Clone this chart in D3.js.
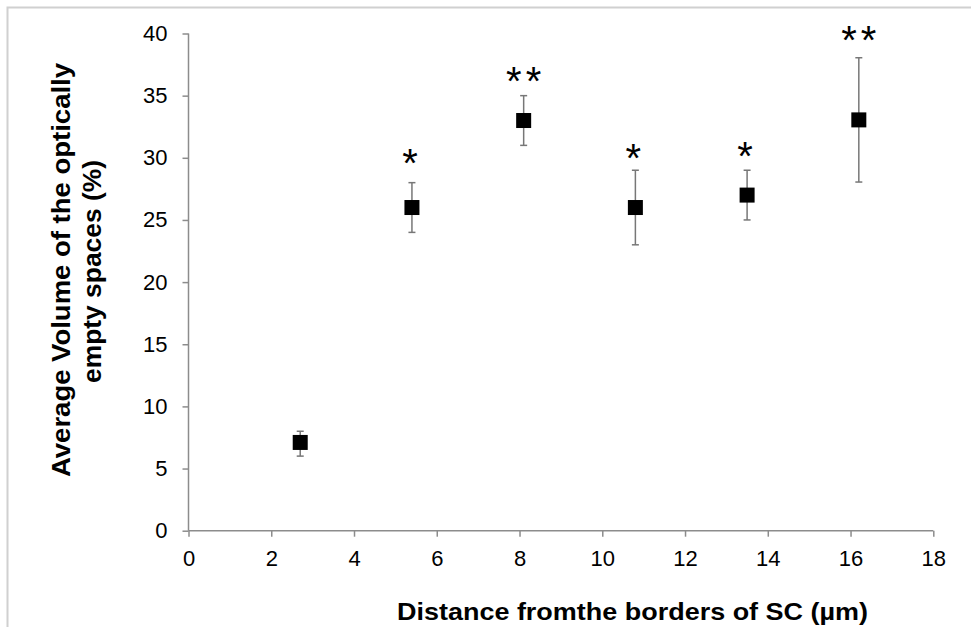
<!DOCTYPE html>
<html>
<head>
<meta charset="utf-8">
<script src="https://cdnjs.cloudflare.com/ajax/libs/d3/7.8.5/d3.min.js"></script>
<style>
    body { margin: 0; background: #fff; }
    svg { display: block; }
</style>
</head>
<body>
<div id="chart"></div>
<script>
// distance from the borders of SC (µm)
var distances = [2.7, 5.4, 8.1, 10.8, 13.5, 16.2];
// average volume of optically empty spaces (%)
var volumes = [7.1, 26, 33, 26, 27, 33.05];
var errUpper = [0.9, 2, 2, 3, 2, 5];
var errLower = [1.1, 2, 2, 3, 2, 5];
// significance marks and where they sit (in % units)
var marks = ["", "*", "**", "*", "*", "**"];
var markLevels = [0, 30.1, 36.7, 30.5, 30.6, 40.0];

var xTicks = [0, 2, 4, 6, 8, 10, 12, 14, 16, 18];
var yTicks = [0, 5, 10, 15, 20, 25, 30, 35, 40];

var width = 971, height = 627;
var margin = {top: 33.5, right: 37.7, bottom: 96.3, left: 188.5};
var font = "'Liberation Sans', Arial, sans-serif";

var svg = d3.select("#chart").append("svg")
    .attr("width", width)
    .attr("height", height);

// outer frame (top and left edges only visible)
svg.append("path")
    .attr("d", "M7.5," + height + "V7.5H" + width)
    .style("fill", "none")
    .style("stroke", "#d0d0d0")
    .style("stroke-width", 2);

var x = d3.scaleLinear().domain([0, 18]).range([margin.left, width - margin.right]);
var y = d3.scaleLinear().domain([0, 40]).range([height - margin.bottom, margin.top]);

var axisColor = "#8c8c8c";

//x axis
var xAxisGroup = svg.append("g")
    .attr("transform", "translate(0," + y(0) + ")")
    .call(d3.axisBottom(x).tickValues(xTicks).tickSize(6).tickPadding(14).tickFormat(d3.format("d")));
xAxisGroup.select(".domain").attr("d", "M" + x(0) + ",0H" + x(18)).style("stroke", axisColor).style("stroke-width", 1.5);
xAxisGroup.selectAll(".tick line").style("stroke", axisColor).style("stroke-width", 1.5);
xAxisGroup.selectAll("text")
    .style("font-family", font)
    .style("font-size", "22px")
    .style("fill", "#000");

//y axis
var yAxisGroup = svg.append("g")
    .attr("transform", "translate(" + x(0) + ",0)")
    .call(d3.axisLeft(y).tickValues(yTicks).tickSize(6).tickPadding(15).tickFormat(d3.format("d")));
yAxisGroup.select(".domain").attr("d", "M0," + y(0) + "V" + y(40)).style("stroke", axisColor).style("stroke-width", 1.5);
yAxisGroup.selectAll(".tick line").style("stroke", axisColor).style("stroke-width", 1.5);
yAxisGroup.selectAll("text")
    .style("font-family", font)
    .style("font-size", "22px")
    .style("fill", "#000");

var points = distances.map(function (d, i) {
    return {x: d, v: volumes[i], hi: volumes[i] + errUpper[i], lo: volumes[i] - errLower[i], m: marks[i], ml: markLevels[i]};
});

// error bars
var capHalf = 3.5;
var bars = svg.append("g").selectAll("g").data(points).enter().append("g")
    .style("stroke", "#777")
    .style("stroke-width", 1.5);
bars.append("line")
    .attr("x1", function (d) { return x(d.x); })
    .attr("x2", function (d) { return x(d.x); })
    .attr("y1", function (d) { return y(d.hi); })
    .attr("y2", function (d) { return y(d.lo); });
bars.append("line")
    .attr("x1", function (d) { return x(d.x) - capHalf; })
    .attr("x2", function (d) { return x(d.x) + capHalf; })
    .attr("y1", function (d) { return y(d.hi); })
    .attr("y2", function (d) { return y(d.hi); });
bars.append("line")
    .attr("x1", function (d) { return x(d.x) - capHalf; })
    .attr("x2", function (d) { return x(d.x) + capHalf; })
    .attr("y1", function (d) { return y(d.lo); })
    .attr("y2", function (d) { return y(d.lo); });

// square markers
var size = 15;
svg.append("g").selectAll("rect").data(points).enter().append("rect")
    .attr("x", function (d) { return x(d.x) - size / 2; })
    .attr("y", function (d) { return y(d.v) - size / 2; })
    .attr("width", size)
    .attr("height", size)
    .style("fill", "#000");

// significance asterisks
svg.append("g").selectAll("text").data(points.filter(function (d) { return d.m; })).enter().append("text")
    .attr("x", function (d) { return x(d.x) + (d.m.length > 1 ? 2 : 0); })
    .attr("y", function (d) { return y(d.ml) + 20; })
    .attr("text-anchor", "middle")
    .style("font-family", font)
    .style("font-size", "40px")
    .style("letter-spacing", "4px")
    .style("fill", "#000")
    .text(function (d) { return d.m; });

// axis titles
svg.append("text")
    .attr("x", 397)
    .attr("y", 620)
    .attr("textLength", 471)
    .attr("lengthAdjust", "spacingAndGlyphs")
    .style("font-family", font)
    .style("font-size", "24px")
    .style("font-weight", "bold")
    .text("Distance fromthe borders of SC (µm)");

var yTitle = svg.append("text")
    .attr("transform", "rotate(-90)")
    .style("font-family", font)
    .style("font-size", "26px")
    .style("font-weight", "bold");
yTitle.append("tspan").attr("x", -477).attr("y", 70)
    .attr("textLength", 414).attr("lengthAdjust", "spacingAndGlyphs")
    .text("Average  Volume of the optically");
yTitle.append("tspan").attr("x", -383).attr("y", 101)
    .attr("textLength", 223).attr("lengthAdjust", "spacingAndGlyphs")
    .text("empty spaces (%)");
</script>
</body>
</html>
